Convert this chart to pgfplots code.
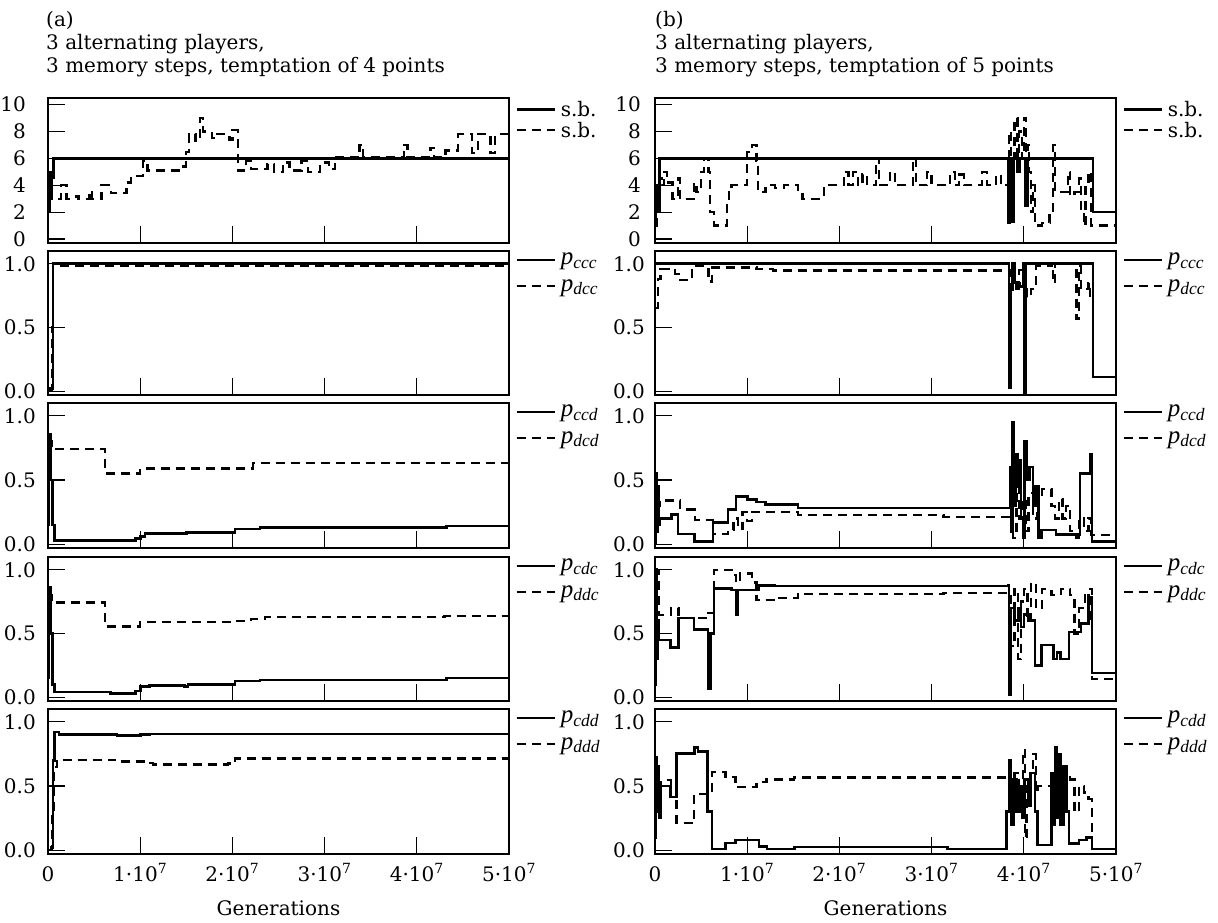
\documentclass[border=0pt]{standalone}
\usepackage{fontspec}
\setmainfont{DejaVu Serif}
\newfontfamily\tms{Liberation Serif}
\newcommand{\pl}[1]{{\fontsize{25}{26}\selectfont\tms\itshape p\textsubscript{#1}}}
\usepackage{pgfplots}
\pgfplotsset{compat=1.18}
\pgfplotsset{
  base/.style={
    scale only axis, width=461pt,
    xmin=0, xmax=5e7,
    axis line style={line width=1.2pt},
    tick align=inside, tick pos=left,
    major tick length=17pt,
    tick style={black, line width=1.1pt},
    xtick={0,1e7,2e7,3e7,4e7,5e7},
    xticklabels={},
    scaled x ticks=false,
    font=\fontsize{20}{24}\selectfont,
    legend style={at={(1,1)}, anchor=north west, draw=none, fill=none,
      xshift=6pt, yshift=-2pt, inner sep=0pt, row sep=2pt,
      font=\fontsize{20}{24}\selectfont,
      nodes={inner sep=1pt},
      /tikz/every odd column/.append style={column sep=4pt}},
    legend cell align=left,
    legend image code/.code={\draw[#1] (0pt,0pt) -- (38pt,0pt);},
  },
  pp/.style={base, ymin=-0.03, ymax=1.1, ytick={0,0.5,1}, yticklabels={0.0,0.5,1.0}, height=144pt,
    legend style={row sep=11pt, yshift=1pt}},
  sb/.style={base, ymin=-0.3, ymax=10.5, ytick={0,2,4,6,8,10}, yticklabels={0,2,4,6,8,10}, height=145pt},
  bottom/.style={xticklabels={0,1·10\textsuperscript{7},2·10\textsuperscript{7},3·10\textsuperscript{7},4·10\textsuperscript{7},5·10\textsuperscript{7}},
    xlabel={Generations},
    xticklabel style={anchor=base, yshift=-27pt},
    xlabel style={at={(axis description cs:0.5,0)}, anchor=base, yshift=-61pt}},
  sol/.style={black, line width=2.6pt, const plot},
  das/.style={black, line width=2.3pt, const plot, dash pattern=on 9pt off 6pt},
}
\begin{document}
\begin{tikzpicture}
\path[use as bounding box] (0pt,0pt) rectangle (1218pt,-923pt);
\begin{scope}[font=\fontsize{20}{24}\selectfont]
\node[anchor=base west, inner sep=0pt] at (46pt,-27pt) {(a)};
\node[anchor=base west, inner sep=0pt] at (46pt,-50pt) {3 alternating players,};
\node[anchor=base west, inner sep=0pt] at (46pt,-73pt) {3 memory steps, temptation of 4 points};
\node[anchor=base west, inner sep=0pt] at (655pt,-27pt) {(b)};
\node[anchor=base west, inner sep=0pt] at (655pt,-50pt) {3 alternating players,};
\node[anchor=base west, inner sep=0pt] at (655pt,-73pt) {3 memory steps, temptation of 5 points};
\end{scope}

% ================= LEFT COLUMN =================
\begin{axis}[sb, at={(48pt,-98pt)}, anchor=north west, yticklabel style={anchor=east, inner sep=0pt, xshift=-22pt}]
\addplot[sol] coordinates {(0,2) (0.015e7,5) (0.03e7,3) (0.045e7,4.6) (0.06e7,6) (5e7,6)};
\addlegendentry{s.b.}
\addplot[das] coordinates {(0,4.5) (0.02e7,3) (0.14e7,4) (0.2e7,3) (0.3e7,3.2) (0.33e7,3) (0.45e7,3.6) (0.48e7,3) (0.58e7,4) (0.68e7,3.4) (0.85e7,4.2) (0.9e7,4.7) (1.03e7,5.8) (1.08e7,5.1) (1.45e7,5.4) (1.5e7,6.5) (1.53e7,7.8) (1.6e7,7.3) (1.65e7,9) (1.68e7,8) (1.78e7,7.5) (1.83e7,7.8) (1.97e7,7.4) (2.0e7,8.1) (2.06e7,5.1) (2.15e7,5.8) (2.2e7,5.2) (2.38e7,5.6) (2.45e7,5) (2.55e7,5.7) (2.62e7,5.1) (2.75e7,5.8) (2.82e7,5) (2.95e7,5.7) (3.05e7,5.2) (3.11e7,6.1) (3.38e7,7) (3.42e7,6.1) (3.86e7,7) (3.9e7,6.1) (4.15e7,6.8) (4.19e7,6.1) (4.31e7,6.6) (4.45e7,7.8) (4.6e7,6.4) (4.66e7,7.8) (4.8e7,6.4) (4.85e7,7.8) (5e7,7.8)};
\addlegendentry{s.b.}
\end{axis}

\begin{axis}[pp, at={(48pt,-251pt)}, anchor=north west, yticklabel style={anchor=east, inner sep=0pt, xshift=-12pt}]
\addplot[sol] coordinates {(0,0) (0.04e7,0.02) (0.055e7,1.0) (5e7,1.0)};
\addlegendentry{\pl{ccc}}
\addplot[das] coordinates {(0,0.02) (0.045e7,0.5) (0.055e7,0.985) (5e7,0.985)};
\addlegendentry{\pl{dcc}}
\end{axis}

\begin{axis}[pp, height=145pt, at={(48pt,-403pt)}, anchor=north west, yticklabel style={anchor=east, inner sep=0pt, xshift=-12pt}]
\addplot[sol] coordinates {(0,0.15) (0.01e7,0.86) (0.03e7,0.5) (0.05e7,0.15) (0.07e7,0.03) (0.95e7,0.045) (1.0e7,0.06) (1.05e7,0.085) (1.5e7,0.092) (2.03e7,0.118) (2.3e7,0.13) (4.32e7,0.14) (5e7,0.14)};
\addlegendentry{\pl{ccd}}
\addplot[das] coordinates {(0,0.8) (0.04e7,0.74) (0.62e7,0.55) (1.0e7,0.59) (2.22e7,0.63) (5e7,0.63)};
\addlegendentry{\pl{dcd}}
\end{axis}

\begin{axis}[pp, at={(48pt,-557pt)}, anchor=north west, yticklabel style={anchor=east, inner sep=0pt, xshift=-12pt}]
\addplot[sol] coordinates {(0,0.15) (0.01e7,0.86) (0.03e7,0.5) (0.05e7,0.1) (0.07e7,0.04) (0.68e7,0.03) (0.95e7,0.05) (1.0e7,0.084) (1.1e7,0.094) (1.48e7,0.085) (1.52e7,0.1) (2.03e7,0.128) (2.3e7,0.136) (4.32e7,0.15) (5e7,0.15)};
\addlegendentry{\pl{cdc}}
\addplot[das] coordinates {(0,0.8) (0.04e7,0.743) (0.62e7,0.555) (1.0e7,0.59) (2.0e7,0.6) (2.2e7,0.615) (2.35e7,0.628) (4.3e7,0.635) (5e7,0.635)};
\addlegendentry{\pl{ddc}}
\end{axis}

\begin{axis}[pp, bottom, height=145pt, at={(48pt,-709pt)}, anchor=north west, yticklabel style={anchor=east, inner sep=0pt, xshift=-12pt}]
\addplot[sol] coordinates {(0,0) (0.04e7,0.02) (0.055e7,0.7) (0.07e7,0.92) (0.12e7,0.9) (0.75e7,0.895) (1.0e7,0.9) (1.1e7,0.905) (5e7,0.905)};
\addlegendentry{\pl{cdd}}
\addplot[das] coordinates {(0,0) (0.04e7,0.3) (0.06e7,0.65) (0.1e7,0.705) (0.7e7,0.7) (0.75e7,0.69) (1.06e7,0.68) (1.14e7,0.667) (1.95e7,0.675) (2.03e7,0.715) (5e7,0.715)};
\addlegendentry{\pl{ddd}}
\end{axis}

% ================= RIGHT COLUMN =================
\begin{axis}[sb, at={(655pt,-98pt)}, anchor=north west, yticklabel style={anchor=east, inner sep=0pt, xshift=-14pt}]
\addplot[sol] coordinates {(0,1) (0.01e7,4) (0.03e7,2) (0.05e7,6) (3.82e7,6) (3.83e7,1.2) (3.85e7,6) (3.87e7,1.3) (3.89e7,6) (3.93e7,5) (3.95e7,6) (4.02e7,2.5) (4.04e7,6) (4.74e7,6) (4.75e7,2) (5e7,2)};
\addlegendentry{s.b.}
\addplot[das] coordinates {(0,1) (0.02e7,3) (0.04e7,4.5) (0.07e7,4) (0.1e7,5) (0.13e7,4.2) (0.19e7,3) (0.25e7,4.5) (0.27e7,3) (0.38e7,3) (0.42e7,4.2) (0.45e7,3.5) (0.5e7,5) (0.53e7,6) (0.58e7,5) (0.6e7,2) (0.64e7,1) (0.75e7,1) (0.78e7,2.5) (0.8e7,3.5) (0.83e7,4) (0.98e7,4) (1.0e7,6.5) (1.05e7,7) (1.1e7,5.8) (1.12e7,3.5) (1.2e7,4) (1.3e7,3.8) (1.4e7,4) (1.55e7,3.5) (1.6e7,3) (1.83e7,4) (2.05e7,5) (2.1e7,4) (2.15e7,5) (2.2e7,4) (2.25e7,4.8) (2.3e7,4) (2.4e7,6) (2.43e7,4) (2.55e7,5) (2.6e7,4) (2.8e7,6) (2.83e7,4) (2.95e7,5) (3.0e7,4) (3.2e7,5) (3.25e7,4) (3.3e7,4.8) (3.35e7,4) (3.55e7,5) (3.6e7,4) (3.7e7,4.8) (3.75e7,4) (3.82e7,4) (3.84e7,8) (3.86e7,2) (3.88e7,6) (3.9e7,9) (3.93e7,5) (3.95e7,8) (3.98e7,6) (4.0e7,9) (4.02e7,3) (4.04e7,7) (4.06e7,5) (4.08e7,2) (4.1e7,4) (4.12e7,1) (4.2e7,1.2) (4.28e7,2) (4.32e7,7) (4.34e7,3.5) (4.45e7,3.5) (4.48e7,5) (4.5e7,3.2) (4.55e7,3.5) (4.6e7,4.5) (4.62e7,2) (4.65e7,1) (4.67e7,4) (4.7e7,5) (4.73e7,1) (5e7,1)};
\addlegendentry{s.b.}
\end{axis}

\begin{axis}[pp, at={(655pt,-251pt)}, anchor=north west, yticklabel style={anchor=east, inner sep=0pt, xshift=-10pt}]
\addplot[sol] coordinates {(0,1.0) (3.83e7,1.0) (3.84e7,0.03) (3.86e7,0.8) (3.88e7,1.0) (3.9e7,0.85) (3.96e7,0.82) (3.99e7,1.0) (4.0e7,-0.03) (4.02e7,1.0) (4.74e7,1.0) (4.75e7,0.11) (5e7,0.11)};
\addlegendentry{\pl{ccc}}
\addplot[das] coordinates {(0,0.65) (0.03e7,0.88) (0.06e7,0.96) (0.22e7,0.92) (0.26e7,0.87) (0.4e7,0.98) (0.58e7,0.86) (0.62e7,0.97) (1.1e7,0.96) (1.28e7,0.947) (3.83e7,0.947) (3.85e7,0.8) (3.88e7,0.9) (3.92e7,0.78) (3.95e7,0.95) (4.0e7,0.85) (4.03e7,0.74) (4.08e7,0.8) (4.13e7,0.98) (4.3e7,1.0) (4.32e7,0.85) (4.34e7,1.0) (4.57e7,0.57) (4.6e7,0.98) (4.62e7,0.8) (4.7e7,0.85) (4.72e7,0.75) (4.75e7,0.11) (5e7,0.11)};
\addlegendentry{\pl{dcc}}
\end{axis}

\begin{axis}[pp, height=145pt, at={(655pt,-403pt)}, anchor=north west, yticklabel style={anchor=east, inner sep=0pt, xshift=-10pt}]
\addplot[sol] coordinates {(0,0.0) (0.01e7,0.55) (0.02e7,0.1) (0.03e7,0.45) (0.04e7,0.15) (0.05e7,0.2) (0.18e7,0.23) (0.25e7,0.08) (0.43e7,0.02) (0.63e7,0.17) (0.79e7,0.27) (0.88e7,0.37) (1.0e7,0.35) (1.1e7,0.33) (1.2e7,0.31) (1.55e7,0.283) (3.83e7,0.283) (3.85e7,0.6) (3.86e7,0.1) (3.88e7,0.95) (3.89e7,0.3) (3.91e7,0.7) (3.93e7,0.45) (3.95e7,0.65) (3.97e7,0.2) (3.99e7,0.05) (4.01e7,0.8) (4.03e7,0.5) (4.06e7,0.6) (4.1e7,0.3) (4.13e7,0.45) (4.16e7,0.05) (4.19e7,0.11) (4.35e7,0.074) (4.61e7,0.55) (4.72e7,0.7) (4.74e7,0.02) (5e7,0.02)};
\addlegendentry{\pl{ccd}}
\addplot[das] coordinates {(0,0.3) (0.05e7,0.34) (0.27e7,0.27) (0.43e7,0.19) (0.63e7,0.08) (0.79e7,0.11) (0.85e7,0.2) (0.9e7,0.12) (0.95e7,0.25) (1.0e7,0.18) (1.05e7,0.25) (1.55e7,0.225) (3.13e7,0.21) (3.83e7,0.21) (3.86e7,0.4) (3.88e7,0.05) (3.92e7,0.5) (3.95e7,0.2) (3.98e7,0.35) (4.02e7,0.1) (4.05e7,0.4) (4.1e7,0.2) (4.15e7,0.35) (4.2e7,0.43) (4.3e7,0.3) (4.34e7,0.2) (4.38e7,0.35) (4.42e7,0.2) (4.46e7,0.3) (4.5e7,0.1) (4.57e7,0.05) (4.6e7,0.2) (4.65e7,0.1) (4.7e7,0.2) (4.73e7,0.07) (5e7,0.07)};
\addlegendentry{\pl{dcd}}
\end{axis}

\begin{axis}[pp, at={(655pt,-557pt)}, anchor=north west, yticklabel style={anchor=east, inner sep=0pt, xshift=-10pt}]
\addplot[sol] coordinates {(0,0.1) (0.01e7,1.0) (0.02e7,0.3) (0.03e7,0.6) (0.04e7,0.45) (0.17e7,0.39) (0.255e7,0.62) (0.425e7,0.53) (0.56e7,0.53) (0.575e7,0.065) (0.6e7,0.5) (0.64e7,0.855) (0.83e7,0.84) (0.88e7,0.65) (0.9e7,0.84) (1.13e7,0.876) (1.3e7,0.872) (3.83e7,0.875) (3.84e7,0.02) (3.86e7,0.7) (3.9e7,0.6) (3.94e7,0.7) (3.97e7,0.55) (4.0e7,0.65) (4.05e7,0.6) (4.12e7,0.25) (4.19e7,0.41) (4.32e7,0.3) (4.36e7,0.35) (4.4e7,0.3) (4.49e7,0.51) (4.62e7,0.58) (4.7e7,0.78) (4.74e7,0.19) (5e7,0.19)};
\addlegendentry{\pl{cdc}}
\addplot[das] coordinates {(0,1.0) (0.04e7,0.645) (0.17e7,0.7) (0.255e7,0.62) (0.55e7,0.66) (0.64e7,1.0) (0.83e7,0.96) (0.88e7,0.9) (0.92e7,0.97) (1.05e7,0.9) (1.1e7,0.76) (1.3e7,0.78) (1.55e7,0.81) (3.13e7,0.82) (3.83e7,0.81) (3.86e7,0.4) (3.9e7,0.85) (3.94e7,0.3) (3.97e7,0.75) (4.0e7,0.85) (4.04e7,0.6) (4.08e7,0.9) (4.13e7,0.7) (4.2e7,0.85) (4.3e7,0.8) (4.4e7,0.85) (4.5e7,0.8) (4.55e7,0.5) (4.6e7,0.7) (4.66e7,0.82) (4.7e7,0.6) (4.72e7,0.85) (4.74e7,0.14) (5e7,0.14)};
\addlegendentry{\pl{ddc}}
\end{axis}

\begin{axis}[pp, bottom, height=145pt, at={(655pt,-709pt)}, anchor=north west, yticklabel style={anchor=east, inner sep=0pt, xshift=-10pt}]
\addplot[sol] coordinates {(0,0.1) (0.01e7,0.72) (0.02e7,0.3) (0.03e7,0.65) (0.045e7,0.25) (0.064e7,0.5) (0.17e7,0.415) (0.234e7,0.753) (0.426e7,0.8) (0.468e7,0.77) (0.57e7,0.3) (0.617e7,0.01) (0.766e7,0.057) (0.872e7,0.078) (1.128e7,0.03) (1.213e7,0.01) (1.51e7,0.026) (3.17e7,0.01) (3.81e7,0.3) (3.84e7,0.7) (3.86e7,0.2) (3.89e7,0.55) (3.92e7,0.3) (3.95e7,0.5) (3.98e7,0.25) (4.01e7,0.55) (4.05e7,0.35) (4.08e7,0.6) (4.12e7,0.3) (4.15e7,0.04) (4.3e7,0.6) (4.32e7,0.2) (4.34e7,0.8) (4.36e7,0.25) (4.38e7,0.75) (4.4e7,0.2) (4.43e7,0.65) (4.46e7,0.3) (4.49e7,0.05) (4.6e7,0.08) (4.68e7,0.1) (4.74e7,0.01) (5e7,0.01)};
\addlegendentry{\pl{cdd}}
\addplot[das] coordinates {(0,0.3) (0.02e7,0.7) (0.04e7,0.4) (0.064e7,0.545) (0.17e7,0.5) (0.234e7,0.21) (0.426e7,0.44) (0.617e7,0.61) (0.766e7,0.57) (0.872e7,0.49) (1.1e7,0.53) (1.21e7,0.55) (1.51e7,0.566) (3.81e7,0.566) (3.85e7,0.4) (3.9e7,0.6) (3.95e7,0.45) (3.99e7,0.78) (4.01e7,0.1) (4.03e7,0.5) (4.07e7,0.6) (4.1e7,0.75) (4.13e7,0.45) (4.15e7,0.5) (4.3e7,0.57) (4.5e7,0.55) (4.55e7,0.3) (4.6e7,0.5) (4.65e7,0.45) (4.7e7,0.4) (4.74e7,0.01) (5e7,0.01)};
\addlegendentry{\pl{ddd}}
\end{axis}
\end{tikzpicture}
\end{document}
